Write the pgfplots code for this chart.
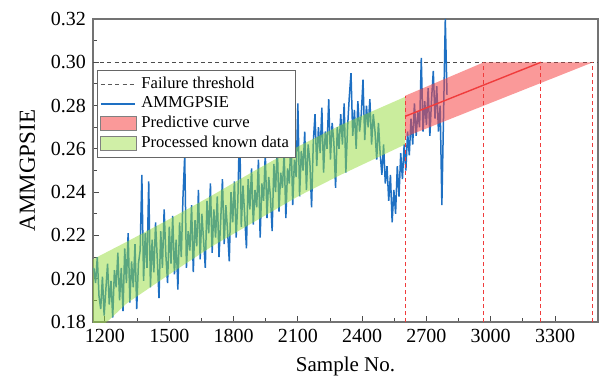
\documentclass[border=0pt]{standalone}
\usepackage{fontspec}
\setmainfont{Liberation Serif}
\usepackage{pgfplots}
\pgfplotsset{compat=1.18}
\usetikzlibrary{calc}
\definecolor{dblue}{RGB}{30,112,195}
\definecolor{bandred}{RGB}{245,70,70}
\definecolor{bandgreen}{RGB}{150,220,60}
\definecolor{lred}{RGB}{240,60,60}
\begin{document}
\begin{tikzpicture}
\begin{axis}[
  scale only axis,
  width=252.5pt, height=151.5pt,
  xmin=1144, xmax=3500.6, ymin=0.18, ymax=0.32,
  xtick={1200,1500,1800,2100,2400,2700,3000,3300},
  ytick={0.18,0.20,0.22,0.24,0.26,0.28,0.30,0.32},
  minor x tick num=1, minor y tick num=1,
  tick pos=left,
  tick style={black!70, line width=0.5pt},
  major tick length=3pt, minor tick length=1.8pt,
  axis line style={black!55, line width=0.8pt},
  /pgf/number format/assume math mode=true,
  yticklabel style={/pgf/number format/.cd, fixed, fixed zerofill, precision=2},
  xticklabel style={/pgf/number format/.cd, set thousands separator={}},
  ticklabel style={font=\fontsize{10}{12}\selectfont},
  scaled y ticks=false,
  xlabel={Sample No.}, ylabel={AMMGPSIE},
  xlabel style={font=\fontsize{10.5}{12}\selectfont, yshift=-0.5pt},
  ylabel style={font=\fontsize{11.5}{13}\selectfont, yshift=1pt},
  legend style={at={(0.008,0.832)}, anchor=north west, draw=black!60, line width=0.5pt,
    font=\fontsize{8.3}{9.5}\selectfont, row sep=-1.3pt, inner sep=1.3pt, cells={anchor=west}},
  legend cell align=left,
]
\addlegendimage{black!65, dash pattern=on 2pt off 1.6pt, line width=0.5pt}
\addlegendentry{Failure threshold}
\addlegendimage{dblue, line width=0.8pt}
\addlegendentry{AMMGPSIE}
\addlegendimage{legend image code/.code={\draw[fill=bandred!55!white, draw=black!50] (0pt,-3.6pt) rectangle (18pt,3.6pt);}}
\addlegendentry{Predictive curve}
\addlegendimage{legend image code/.code={\draw[fill=bandgreen!45!white, draw=black!50] (0pt,-3.6pt) rectangle (18pt,3.6pt);}}
\addlegendentry{Processed known data}

% threshold
\addplot[forget plot, black!70, dash pattern=on 2pt off 1.6pt, line width=0.55pt] coordinates {(1144,0.30) (3500,0.30)};

% blue data
\addplot[forget plot, dblue, line width=0.75pt] coordinates {
(1148,0.205) (1156,0.198) (1164,0.210) (1172,0.192) (1180,0.186) (1188,0.201) (1196,0.183) (1204,0.195)
(1212,0.207) (1220,0.188) (1228,0.199) (1236,0.182) (1244,0.204)
(1252,0.196) (1260,0.212) (1268,0.190) (1276,0.205) (1284,0.185) (1292,0.214) (1300,0.198) (1308,0.221)
(1316,0.189) (1324,0.208) (1332,0.196) (1340,0.216) (1348,0.186) (1356,0.207)
(1364,0.213) (1372,0.248) (1380,0.199) (1388,0.221) (1396,0.205) (1404,0.245) (1412,0.196) (1420,0.218)
(1428,0.203) (1436,0.226) (1444,0.209) (1452,0.191) (1460,0.222) (1468,0.205) (1476,0.232) (1484,0.211)
(1492,0.198) (1500,0.224) (1508,0.207) (1516,0.229) (1524,0.202) (1532,0.218) (1540,0.195) (1548,0.226)
(1556,0.210) (1564,0.238) (1572,0.257) (1580,0.205) (1588,0.222) (1596,0.213) (1604,0.234) (1612,0.203)
(1620,0.227) (1628,0.215) (1636,0.241) (1644,0.209) (1652,0.230) (1660,0.218) (1668,0.205) (1676,0.236)
(1684,0.221) (1692,0.244) (1700,0.212) (1708,0.232) (1716,0.219) (1724,0.238) (1732,0.210) (1740,0.227)
(1748,0.246) (1756,0.216) (1764,0.234) (1772,0.222) (1780,0.208) (1788,0.240) (1796,0.226) (1804,0.245)
(1812,0.219) (1820,0.236) (1828,0.272) (1836,0.224) (1844,0.243) (1852,0.229) (1860,0.214) (1868,0.246)
(1876,0.232) (1884,0.251) (1892,0.225) (1900,0.241) (1908,0.233) (1916,0.255) (1924,0.219) (1932,0.244)
(1940,0.236) (1948,0.258) (1956,0.228) (1964,0.247) (1972,0.238) (1980,0.222) (1988,0.253) (1996,0.240)
(2004,0.262) (2012,0.231) (2020,0.249) (2028,0.242) (2036,0.258) (2044,0.228) (2052,0.251) (2060,0.244)
(2068,0.266) (2076,0.234) (2084,0.255) (2092,0.247) (2100,0.281) (2108,0.238) (2116,0.259) (2124,0.250)
(2132,0.268) (2140,0.241) (2148,0.262) (2156,0.254) (2164,0.233) (2172,0.263) (2180,0.276) (2188,0.252)
(2196,0.270) (2204,0.258) (2212,0.279) (2220,0.249) (2228,0.268) (2236,0.260) (2244,0.283) (2252,0.255)
(2260,0.272) (2268,0.263) (2276,0.242) (2284,0.270) (2292,0.260) (2300,0.276) (2308,0.262) (2316,0.281)
(2324,0.249) (2332,0.270) (2340,0.284) (2348,0.295) (2356,0.266) (2364,0.278) (2372,0.260) (2380,0.282)
(2388,0.268) (2396,0.276) (2404,0.292) (2412,0.264) (2420,0.280) (2428,0.270) (2436,0.283) (2444,0.262)
(2452,0.276) (2460,0.268) (2468,0.255) (2476,0.272) (2484,0.258) (2492,0.248) (2500,0.262) (2508,0.244)
(2516,0.252) (2524,0.236) (2532,0.248) (2540,0.226) (2548,0.241) (2556,0.230) (2564,0.252) (2572,0.238)
(2580,0.258) (2588,0.246) (2596,0.262) (2604,0.250) (2612,0.268) (2620,0.257) (2628,0.274) (2636,0.262)
(2644,0.281) (2652,0.266) (2660,0.277) (2668,0.270) (2676,0.302) (2684,0.268) (2692,0.282) (2700,0.271)
(2708,0.288) (2716,0.266) (2724,0.283) (2732,0.296) (2740,0.274) (2748,0.289) (2756,0.268) (2764,0.280)
(2772,0.234) (2780,0.276) (2788,0.320) (2796,0.285)
};

% green band
\addplot[forget plot, draw=none, fill=bandgreen, fill opacity=0.5] coordinates {
(1144,0.209) (1300,0.217) (1500,0.2275) (1700,0.2385) (1900,0.2500) (2100,0.2610) (2300,0.2710) (2450,0.2775) (2600,0.284)
(2600,0.262) (2450,0.255) (2300,0.248) (2100,0.238) (1900,0.2265) (1700,0.215) (1500,0.202) (1300,0.1885) (1220,0.181) (1144,0.175)
} -- cycle;

% red band
\addplot[forget plot, draw=none, fill=bandred, fill opacity=0.55] coordinates {
(2600,0.2845) (2968,0.30) (3477,0.30) (2600,0.2655)
} -- cycle;

% predictive centre line
\addplot[forget plot, lred, line width=0.7pt] coordinates {(2600,0.275) (3234,0.30)};

% vertical dashed lines
\addplot[forget plot, lred, dash pattern=on 2pt off 1.5pt, line width=0.5pt] coordinates {(2600,0.18) (2600,0.2845)};
\addplot[forget plot, lred, dash pattern=on 2pt off 1.5pt, line width=0.5pt] coordinates {(2968,0.18) (2968,0.30)};
\addplot[forget plot, lred, dash pattern=on 2pt off 1.5pt, line width=0.5pt] coordinates {(3234,0.18) (3234,0.30)};
\addplot[forget plot, lred, dash pattern=on 2pt off 1.5pt, line width=0.5pt] coordinates {(3477,0.18) (3477,0.30)};
\end{axis}
\pgfresetboundingbox
\path[use as bounding box] ($(current axis.south west)+(-46.5pt,-26.5pt)$) rectangle ($(current axis.north east)+(0.5pt,9.5pt)$);
\end{tikzpicture}
\end{document}
